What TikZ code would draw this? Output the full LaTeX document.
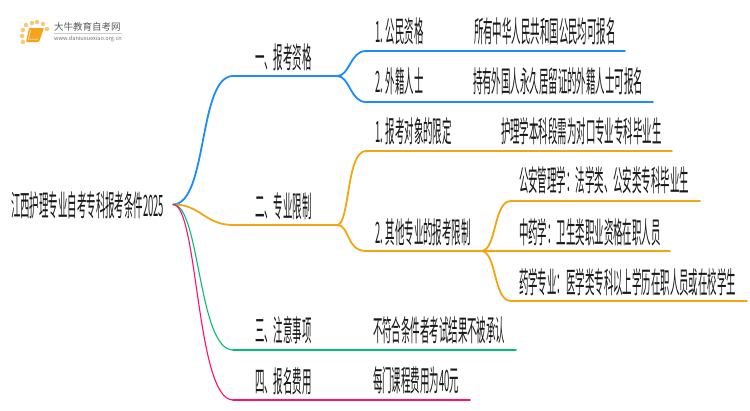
\documentclass[tikz,border=0pt]{standalone}
\usepackage{fontspec}
\newfontfamily\cjk{Noto Sans CJK SC}
\definecolor{blueline}{HTML}{1A8CFF}
\definecolor{orangeline}{HTML}{F5A50F}
\definecolor{greenline}{HTML}{00C16E}
\definecolor{pinkline}{HTML}{FF0F6E}
\definecolor{logoorange}{HTML}{F7A21B}
\tikzstyle{label} = [anchor=west, inner sep=0pt, text=black!90, transform shape, xscale=.32, font=\cjk\fontsize{29.5}{29.5}\selectfont]
\tikzstyle{branch} = [line width=1.8pt, line cap=round]
\tikzstyle{logodot} = [circle, fill=logoorange!60, inner sep=0pt, minimum size=4.5pt]
\begin{document}
\begin{tikzpicture}[x=1pt,y=-1pt]
      \useasboundingbox (0,0) rectangle (750,410);
      \node[label] (root) at (11,205) {江西护理专业自考专科报考条件2025};
      \coordinate (start) at (173,204.5);
      \node[label] (zige) at (255,57) {一、报考资格};
      \node[label] (xianzhi) at (255,206) {二、专业限制};
      \node[label] (zhuyi) at (255,330) {三、注意事项};
      \node[label] (feiyong) at (255,381) {四、报名费用};
      \node[label] (gongmin) at (375,31) {1. 公民资格};
      \node[label] (gongmintxt) at (474,31) {所有中华人民共和国公民均可报名};
      \node[label] (waiji) at (375,81) {2. 外籍人士};
      \node[label] (waijitxt) at (473,81) {持有外国人永久居留证的外籍人士可报名};
      \node[label] (duixiang) at (375,131) {1. 报考对象的限定};
      \node[label] (duixiangtxt) at (501,131) {护理学本科段需为对口专业专科毕业生};
      \node[label] (qita) at (375,232) {2. 其他专业的报考限制};
      \node[label] (gongan) at (519,180) {公安管理学：法学类、公安类专科毕业生};
      \node[label] (zhongyao) at (519,232) {中药学：卫生类职业资格在职人员};
      \node[label] (yaoxue) at (519,282) {药学专业：医学类专科以上学历在职人员或在校学生};
      \node[label] (zhuyitxt) at (373,330) {不符合条件者考试结果不被承认};
      \node[label] (feiyongtxt) at (373,380) {每门课程费用为40元};
      % blue
      \coordinate (b1a) at (233,76);
      \coordinate (b1b) at (337,76);
      \coordinate (b1c) at (366,51);
      \coordinate (b1d) at (625,51);
      \coordinate (b1e) at (366,102);
      \coordinate (b1f) at (653,102);
      \draw[branch, blueline] (start) .. controls (208,204) and (198,76) .. (b1a) -- (b1b);
      \draw[branch, blueline] (b1b) .. controls (350,76) and (350,51) .. (b1c) -- (b1d);
      \draw[branch, blueline] (b1b) .. controls (350,76) and (350,102) .. (b1e) -- (b1f);
      % orange
      \coordinate (b2a) at (233,225);
      \coordinate (b2b) at (337,225);
      \coordinate (b2c) at (366,151);
      \coordinate (b2d) at (672,151);
      \coordinate (b2e) at (366,251);
      \coordinate (b2f) at (481,251);
      \coordinate (b2g) at (511,201);
      \coordinate (b2h) at (700,201);
      \coordinate (b2i) at (670,251);
      \coordinate (b2j) at (511,301);
      \coordinate (b2k) at (747,301);
      \draw[branch, orangeline] (start) .. controls (200,204) and (205,225) .. (b2a) -- (b2b);
      \draw[branch, orangeline] (b2b) .. controls (350,225) and (346,151) .. (b2c) -- (b2d);
      \draw[branch, orangeline] (b2b) .. controls (350,225) and (346,251) .. (b2e) -- (b2f);
      \draw[branch, orangeline] (b2f) .. controls (497,251) and (493,201) .. (b2g) -- (b2h);
      \draw[branch, orangeline] (b2f) -- (b2i);
      \draw[branch, orangeline] (b2f) .. controls (497,251) and (493,301) .. (b2j) -- (b2k);
      % green
      \coordinate (b3a) at (233,350);
      \coordinate (b3b) at (516,350);
      \draw[line width=1.1pt, greenline] (start) .. controls (200,204) and (198,350) .. (b3a);
      \draw[branch, greenline] (b3a) -- (b3b);
      % pink
      \coordinate (b4a) at (233,400);
      \coordinate (b4b) at (470,400);
      \draw[line width=1.1pt, pinkline] (start) .. controls (198,204) and (196,400) .. (b4a);
      \draw[branch, pinkline] (b4a) -- (b4b);
      % logo
      \foreach \x/\y in {23/42, 22/36, 23/30, 26/25, 32/23, 37/22, 43/24, 47/29}
        \node[logodot] at (\x,\y) {};
      \fill[logoorange, rounded corners=1pt] (29,28) -- (44,28) -- (39,42) -- (26,42) -- cycle;
      \draw[white, line width=.5pt] (30.5,30) -- (28.5,39) -- (38,39);
      \node[anchor=west, inner sep=0pt, text=black!65, font=\cjk\fontsize{9.5}{9.5}\selectfont] (logotxt) at (54,27) {大牛教育自考网};
      \node[anchor=west, inner sep=0pt, text=black!55, font=\cjk\fontsize{5.6}{6}\selectfont] (logourl) at (54,38.5) {www.daniuxuexiao.org.cn};
      \draw[black!20, line width=.4pt] (logotxt.south west) ++(0,1.5) -- ++(68,0);
    \end{tikzpicture}
\end{document}
